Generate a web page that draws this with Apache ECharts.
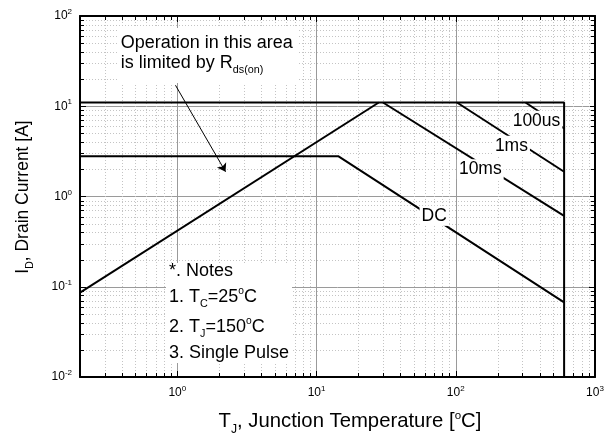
<!DOCTYPE html>
<html><head><meta charset="utf-8">
<script src="https://cdn.jsdelivr.net/npm/echarts@6/dist/echarts.min.js"></script>
<style>html,body{margin:0;padding:0;background:#fff}#c{width:616px;height:436px}</style>
</head><body><div id="c"></div>
<script>
// ---- data ----
const xRange = [0.2, 1000];
const yRange = [0.01, 100];
const xDecadeStarts = [0.1, 1, 10, 100];
const yDecadeStarts = [0.01, 0.1, 1, 10];
const rdsLimit = [[0.2, 0.086], [28, 11]];
const maxCurrent = [[0.2, 11], [600, 11], [600, 0.01]];
const pulse100us = [[317, 11], [600, 5.67]];
const pulse1ms = [[102, 11], [600, 1.88]];
const pulse10ms = [[30, 11], [600, 0.61]];
const dcLine = [[0.2, 2.8], [14.3, 2.8], [600, 0.067]];
const curveLabels = ['100us', '1ms', '10ms', 'DC'];
const curveLabelAt = [[380, 6.9], [251, 3.64], [150, 2.0], [70, 0.61]];
const arrowFrom = [0.97, 17.1];
const arrowTo = [2.22, 1.88];

const FF = '"Liberation Sans", Arial, Helvetica, sans-serif';
const TXT = 17.5;
const NOTE = 18;

function minors(starts, lo, hi) {
  const out = [];
  starts.forEach(d => { for (let k = 2; k <= 9; k++) { const v = +(d * k).toPrecision(3); if (v > lo && v < hi) out.push(v); } });
  return out;
}
const minorX = minors(xDecadeStarts, xRange[0], xRange[1]);
const minorY = minors(yDecadeStarts, yRange[0], yRange[1]);

const snap = v => Math.round(v) + 0.5;
function vGrid(params, api) {
  const v = api.value(0);
  const b = api.coord([v, yRange[0]]), t = api.coord([v, yRange[1]]);
  const x = snap(b[0]);
  return { type: 'group', children: [
    { type: 'line', shape: { x1: x, y1: b[1], x2: x, y2: t[1] }, style: { stroke: '#c4c4c4', lineWidth: 1, lineDash: [1, 2] } },
    { type: 'line', shape: { x1: x, y1: b[1], x2: x, y2: b[1] - 4 }, style: { stroke: '#000', lineWidth: 1 } },
    { type: 'line', shape: { x1: x, y1: t[1], x2: x, y2: t[1] + 4 }, style: { stroke: '#000', lineWidth: 1 } }
  ]};
}
function hGrid(params, api) {
  const v = api.value(1);
  const l = api.coord([xRange[0], v]), r = api.coord([xRange[1], v]);
  const y = snap(l[1]);
  return { type: 'group', children: [
    { type: 'line', shape: { x1: l[0], y1: y, x2: r[0], y2: y }, style: { stroke: '#c4c4c4', lineWidth: 1, lineDash: [1, 2] } },
    { type: 'line', shape: { x1: l[0], y1: y, x2: l[0] + 4, y2: y }, style: { stroke: '#000', lineWidth: 1 } },
    { type: 'line', shape: { x1: r[0], y1: y, x2: r[0] - 4, y2: y }, style: { stroke: '#000', lineWidth: 1 } }
  ]};
}

const expFmt = v => '10{sup|' + Math.round(Math.log10(v)) + '}';
const tickLabel = {
  margin: 8, fontSize: 12, color: '#000', fontFamily: FF, formatter: expFmt,
  rich: { sup: { fontSize: 8, color: '#000', fontFamily: FF, padding: [0, 0, 8, 0] } }
};
const axisLine = { show: true, onZero: false, lineStyle: { color: '#000', width: 2 } };
const axisTick = { show: true, inside: true, length: 6, lineStyle: { color: '#000', width: 1 } };
const split = { show: true, lineStyle: { color: '#9a9a9a', width: 1 } };

const blk = { color: '#000', width: 2 };
function lineSeries(data, extra) {
  return Object.assign({ type: 'line', data, symbol: 'none', lineStyle: blk, z: 3, silent: true }, extra || {});
}

function richFor(size) {
  return {
    sub: { fontSize: size * 0.6, fontFamily: FF, fill: '#000', padding: [size * 0.8, 0, 0, 0] },
    sup: { fontSize: size * 0.57, fontFamily: FF, fill: '#000', padding: [0, 0, size * 0.57, 0] }
  };
}
function txt(x, y, text, size, extra) {
  size = size || NOTE;
  return Object.assign({ type: 'text', x, y, z: 101,
    style: { text, fill: '#000', font: size + 'px ' + FF, textAlign: (extra && extra.align) || 'left', textVerticalAlign: 'middle', rich: richFor(size) } },
    extra && extra.rotation ? { rotation: extra.rotation } : {});
}

const chart = echarts.init(document.getElementById('c'), null, { renderer: 'canvas' });
chart.setOption({
  animation: false,
  backgroundColor: '#fff',
  grid: { left: 80, right: 21, top: 16, bottom: 59 },
  xAxis: [
    { type: 'log', logBase: 10, min: xRange[0], max: xRange[1], position: 'bottom', axisLine, axisTick,
      axisLabel: Object.assign({ showMinLabel: false }, tickLabel), splitLine: split },
    { type: 'log', logBase: 10, min: xRange[0], max: xRange[1], position: 'top', axisLine, axisTick,
      axisLabel: { show: false }, splitLine: { show: false } }
  ],
  yAxis: [
    { type: 'log', logBase: 10, min: yRange[0], max: yRange[1], position: 'left', axisLine, axisTick,
      axisLabel: tickLabel, splitLine: split },
    { type: 'log', logBase: 10, min: yRange[0], max: yRange[1], position: 'right', axisLine, axisTick,
      axisLabel: { show: false }, splitLine: { show: false } }
  ],
  series: [
    { type: 'custom', renderItem: vGrid, data: minorX.map(v => [v, yRange[0]]), encode: { x: 0, y: 1 }, silent: true, z: 1 },
    { type: 'custom', renderItem: hGrid, data: minorY.map(v => [xRange[0], v]), encode: { x: 0, y: 1 }, silent: true, z: 1 },
    lineSeries(maxCurrent),
    lineSeries(rdsLimit, {
      markLine: { silent: true, symbol: ['none', 'arrow'], symbolSize: 8, animation: false,
        lineStyle: { color: '#000', width: 1, type: 'solid' }, itemStyle: { color: '#000' }, label: { show: false },
        data: [[{ coord: arrowFrom }, { coord: arrowTo }]] }
    }),
    lineSeries(pulse100us),
    lineSeries(pulse1ms),
    lineSeries(pulse10ms),
    lineSeries(dcLine, {
      markPoint: { silent: true, animation: false, symbol: 'rect', symbolSize: 1, itemStyle: { color: 'rgba(0,0,0,0)' },
        label: { show: true, position: 'inside', formatter: '{b}', color: '#000', fontSize: TXT, fontFamily: FF, backgroundColor: '#fff', padding: [1, 2] },
        data: curveLabels.map((n, i) => ({ name: n, coord: curveLabelAt[i] })) }
    })
  ],
  graphic: [
    { type: 'rect', z: 100, shape: { x: 117, y: 28, width: 180, height: 55 }, style: { fill: '#fff' } },
    txt(120.7, 42.7, 'Operation in this area'),
    txt(120.7, 63.3, 'is limited by R{sub|ds(on)}'),
    { type: 'rect', z: 100, shape: { x: 166, y: 263, width: 126, height: 100 }, style: { fill: '#fff' } },
    txt(169, 270.7, '*. Notes'),
    txt(169, 296.7, '1. T{sub|C}=25{sup|o}C'),
    txt(169, 326.7, '2. T{sub|J}=150{sup|o}C'),
    txt(169, 353.3, '3. Single Pulse'),
    txt(350, 421.7, 'T{sub|J}, Junction Temperature [{sup|o}C]', 20.3, { align: 'center' }),
    txt(23, 197, 'I{sub|D}, Drain Current [A]', 17.5, { align: 'center', rotation: Math.PI / 2 })
  ]
});
</script></body></html>
